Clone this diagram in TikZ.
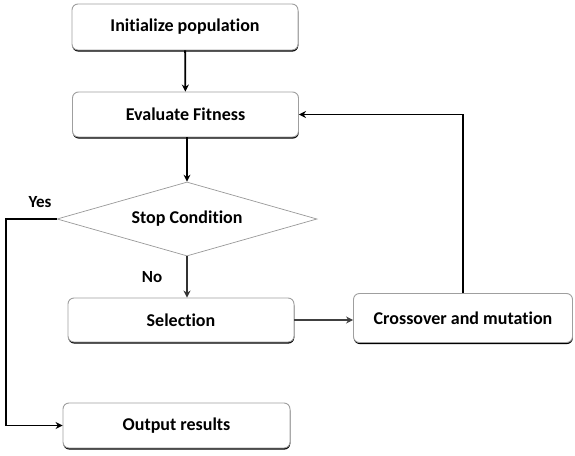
\documentclass[tikz,border=0pt]{standalone}
\usepackage{fontspec}
\setmainfont{Carlito}[Ligatures=NoCommon]
\usetikzlibrary{arrows.meta,shapes.geometric,shadows}
\begin{document}
\begin{tikzpicture}[x=1pt,y=-1pt,
  box/.style={draw=gray!75, line width=0.9pt, rounded corners=6pt, fill=white,
    font=\bfseries\fontsize{18}{20}\selectfont, inner sep=2pt,
    drop shadow={shadow xshift=0.3pt, shadow yshift=-1.6pt, fill=black, opacity=1}},
  decision/.style={diamond, aspect=3.5, draw=gray!80, line width=0.7pt, fill=white, inner sep=0pt,
    font=\bfseries\fontsize{18}{20}\selectfont},
  arr/.style={line width=1.8pt, -{Stealth[length=7pt,width=7pt]}},
  lbl/.style={font=\bfseries\fontsize{17}{19}\selectfont}
]
\useasboundingbox (0,0) rectangle (575,455);
\node[box, minimum width=226pt, minimum height=46pt] (init) at (185,27) {Initialize population};
\node[box, minimum width=226pt, minimum height=45pt] (eval) at (185.5,114.5) {Evaluate Fitness};
\node[decision, minimum width=260pt, minimum height=74pt] (stop) at (187,219) {\raisebox{4pt}{Stop Condition}};
\node[box, minimum width=226pt, minimum height=44pt] (sel) at (181,320) {Selection};
\node[box, minimum width=219pt, minimum height=49pt] (cross) at (463,318) {Crossover and mutation};
\node[box, minimum width=227pt, minimum height=45pt] (out) at (176.5,425.5) {Output results};
\node[lbl] (yes) at (40,202) {Yes};
\node[lbl] (no) at (152,277) {No};
\draw[arr] (init) -- (eval);
\draw[arr] (eval.south -| stop.north) -- (stop.north);
\draw[arr, draw=black!80] (stop.south) -- (stop.south |- sel.north);
\draw[arr, draw=black!75] (sel.east) -- (sel.east -| cross.west);
\draw[arr] (stop.west) -- ++(-51,0) |- (out.west);
\draw[arr] (cross.north) |- (eval.east);
\end{tikzpicture}
\end{document}
